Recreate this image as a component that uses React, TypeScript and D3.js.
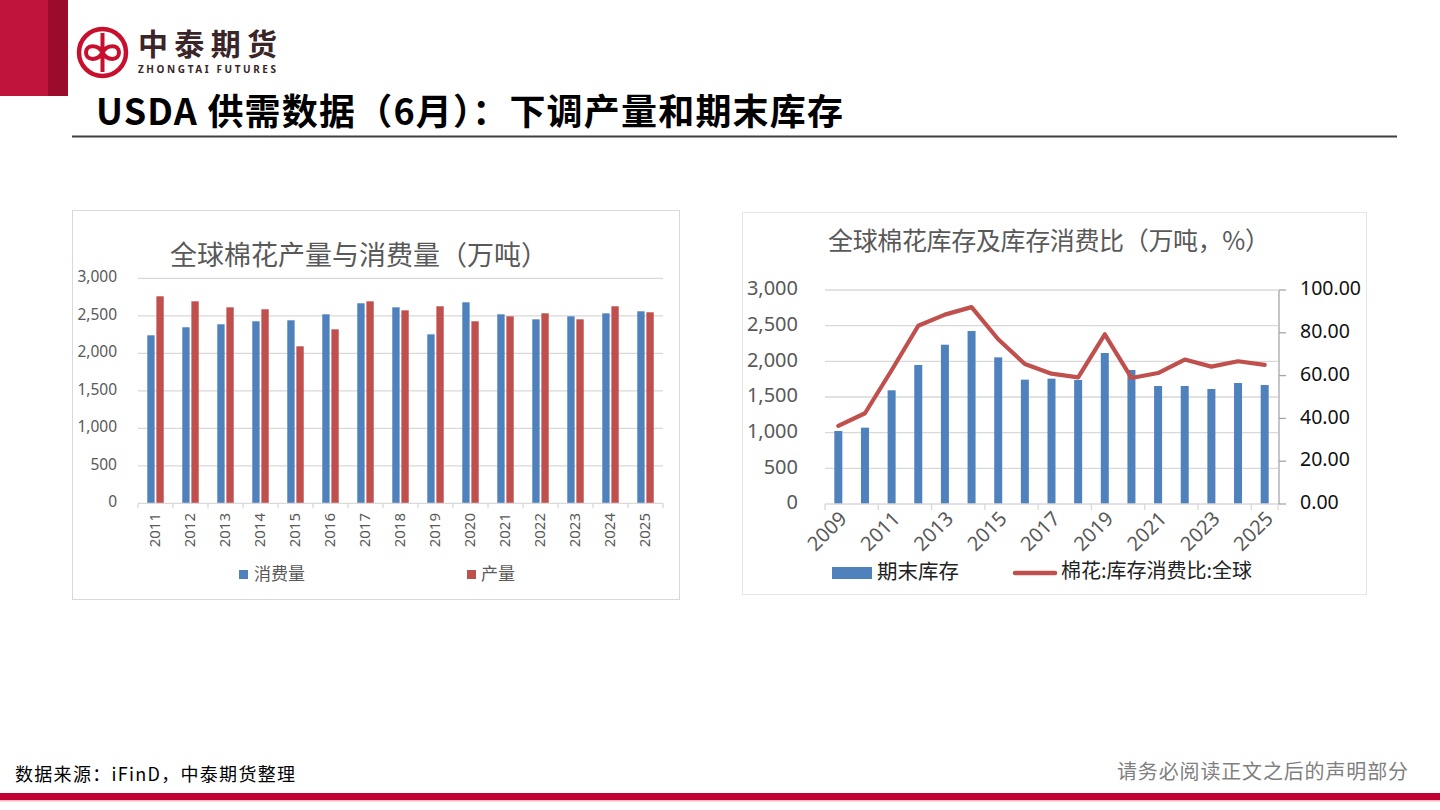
import * as d3 from 'd3';

// 左图：全球棉花产量与消费量（万吨）
const years1 = ['2011', '2012', '2013', '2014', '2015', '2016', '2017', '2018', '2019', '2020', '2021', '2022', '2023', '2024', '2025'];
const consumption = [2240, 2347, 2387, 2427, 2440, 2520, 2667, 2613, 2253, 2680, 2520, 2453, 2493, 2533, 2560];
const production = [2760, 2693, 2613, 2587, 2093, 2320, 2693, 2573, 2627, 2427, 2493, 2533, 2453, 2627, 2547];
const yTicks1 = [0, 500, 1000, 1500, 2000, 2500, 3000];

// 右图：全球棉花库存及库存消费比（万吨，%）
const years2 = ['2009', '2010', '2011', '2012', '2013', '2014', '2015', '2016', '2017', '2018', '2019', '2020', '2021', '2022', '2023', '2024', '2025'];
const endingStocks = [1023, 1070, 1594, 1949, 2233, 2425, 2056, 1743, 1757, 1738, 2117, 1879, 1654, 1654, 1612, 1696, 1668];
const stockRatio = [36.5, 42.4, 62.5, 83.3, 88.5, 92.0, 77.0, 65.4, 60.9, 59.2, 79.3, 58.9, 61.2, 67.5, 64.2, 66.7, 65.0];
const yTicks2L = [0, 500, 1000, 1500, 2000, 2500, 3000];
const yTicks2R = [0, 20, 40, 60, 80, 100];

const BLUE = '#4f81bd';
const RED = '#c0504d';
const GRID = '#d9d9d9';
const SANS = '"Noto Sans", "Noto Sans CJK SC", sans-serif';
const CJK = '"Noto Sans CJK SC", "Noto Sans", sans-serif';
const fmt = d3.format(',');

function LeftChart() {
  const x = d3.scaleBand<string>().domain(years1).range([138, 663]);
  const y = d3.scaleLinear().domain([0, 3000]).range([503.3, 278.3]);
  const bw = x.bandwidth();
  const barW = bw * 0.21;
  const gap = bw * 0.05;
  return (
    <g>
      <rect x={72.5} y={210.5} width={607} height={389} fill="#fff" stroke={GRID} />
      <text x={170} y={258} dominantBaseline="middle" fontFamily={CJK} fontSize={27} fill="#595959" textLength={378}>
        全球棉花产量与消费量（万吨）
      </text>
      {yTicks1.map((t) => (
        <g key={t}>
          {t > 0 && <line x1={138} x2={663} y1={y(t)} y2={y(t)} stroke={GRID} strokeWidth={1.3} />}
          <text x={117} y={y(t)} textAnchor="end" dominantBaseline="middle" fontFamily={SANS} fontSize={15.5} fill="#595959">
            {fmt(t)}
          </text>
        </g>
      ))}
      {years1.map((yr, i) => {
        const c = (x(yr) || 0) + bw / 2;
        return (
          <g key={yr}>
            <rect x={c - gap / 2 - barW} y={y(consumption[i])} width={barW} height={y(0) - y(consumption[i])} fill={BLUE} />
            <rect x={c + gap / 2} y={y(production[i])} width={barW} height={y(0) - y(production[i])} fill={RED} />
            <text
              transform={`translate(${c},513) rotate(-90)`}
              textAnchor="end"
              dominantBaseline="middle"
              fontFamily={SANS}
              fontSize={15}
              fill="#595959"
            >
              {yr}
            </text>
          </g>
        );
      })}
      <line x1={138} x2={663} y1={y(0)} y2={y(0)} stroke={GRID} strokeWidth={1.3} />
      {[...years1.map((yr) => x(yr) || 0), 663].map((px, i) => (
        <line key={i} x1={px} x2={px} y1={y(0)} y2={y(0) + 5} stroke={GRID} strokeWidth={1.3} />
      ))}
      <rect x={239} y={570} width={9} height={9} fill={BLUE} />
      <text x={254} y={575} dominantBaseline="middle" fontFamily={CJK} fontSize={17} fill="#595959">消费量</text>
      <rect x={467} y={570} width={9} height={9} fill={RED} />
      <text x={481} y={575} dominantBaseline="middle" fontFamily={CJK} fontSize={17} fill="#595959">产量</text>
    </g>
  );
}

function RightChart() {
  const x = d3.scaleBand<string>().domain(years2).range([825, 1278]);
  const yL = d3.scaleLinear().domain([0, 3000]).range([504, 290]);
  const yR = d3.scaleLinear().domain([0, 100]).range([504, 290]);
  const bw = x.bandwidth();
  const barW = 8;
  const cx = (yr: string) => (x(yr) || 0) + bw / 2;
  const line = d3
    .line<number>()
    .x((_, i) => cx(years2[i]))
    .y((d) => yR(d));
  const tickXs = [...years2.filter((_, i) => i % 2 === 0).map((yr) => x(yr) || 0), 1278];
  return (
    <g>
      <rect x={742.5} y={212.5} width={624} height={382} fill="#fff" stroke="#e6e6e6" />
      <text x={828} y={243} dominantBaseline="middle" fontFamily={CJK} fontSize={25} fill="#595959" textLength={442}>
        全球棉花库存及库存消费比（万吨，%）
      </text>
      {yTicks2L.map((t) => (
        <g key={t}>
          {t > 0 && <line x1={825} x2={1278} y1={yL(t)} y2={yL(t)} stroke={GRID} strokeWidth={1.3} />}
          <text x={798} y={yL(t)} textAnchor="end" dominantBaseline="middle" fontFamily={SANS} fontSize={20} fill="#595959">
            {fmt(t)}
          </text>
        </g>
      ))}
      {years2.map((yr, i) => (
        <rect key={yr} x={cx(yr) - barW / 2} y={yL(endingStocks[i])} width={barW} height={yL(0) - yL(endingStocks[i])} fill={BLUE} />
      ))}
      <line x1={825} x2={1279} y1={yL(0)} y2={yL(0)} stroke={GRID} strokeWidth={1.3} />
      {tickXs.map((px, i) => (
        <line key={i} x1={px} x2={px} y1={yL(0)} y2={yL(0) + 6} stroke={GRID} strokeWidth={1.3} />
      ))}
      {years2.map((yr, i) =>
        i % 2 === 0 ? (
          <text
            key={yr}
            transform={`translate(${cx(yr) + 6},516) rotate(-45)`}
            textAnchor="end"
            dominantBaseline="middle"
            fontFamily={SANS}
            fontSize={20}
            fill="#595959"
          >
            {yr}
          </text>
        ) : null
      )}
      <path d={line(stockRatio) || ''} fill="none" stroke={RED} strokeWidth={4.2} strokeLinejoin="round" strokeLinecap="round" />
      <line x1={1279} x2={1279} y1={yR(100)} y2={yR(0)} stroke="#a6a6a6" strokeWidth={1.3} />
      {yTicks2R.map((t) => (
        <g key={t}>
          <line x1={1279} x2={1286} y1={yR(t)} y2={yR(t)} stroke="#a6a6a6" strokeWidth={1.3} />
          <text x={1300} y={yR(t)} dominantBaseline="middle" fontFamily={SANS} fontSize={19.5} fill="#111">
            {t.toFixed(2)}
          </text>
        </g>
      ))}
      <rect x={832} y={567} width={40} height={12} fill={BLUE} />
      <text x={877} y={573} dominantBaseline="middle" fontFamily={CJK} fontSize={20.5} fill="#222">期末库存</text>
      <line x1={1015} x2={1055} y1={573} y2={573} stroke={RED} strokeWidth={4.5} strokeLinecap="round" />
      <text x={1061} y={573} dominantBaseline="middle" fontFamily={CJK} fontSize={20} fill="#222">棉花:库存消费比:全球</text>
    </g>
  );
}

function Header() {
  return (
    <g>
      <rect x={0} y={0} width={48} height={96} fill="#c0143c" />
      <rect x={48} y={0} width={20} height={96} fill="#9b0b2c" />
      <circle cx={102.5} cy={52.5} r={23.5} fill="none" stroke="#c8102e" strokeWidth={4.5} />
      <path
        d="M102.5 33 L102.5 72 M102.5 52.5 C98 44 86 44 86 52.5 C86 61 98 61 102.5 52.5 C107 44 119 44 119 52.5 C119 61 107 61 102.5 52.5"
        fill="none"
        stroke="#c8102e"
        strokeWidth={4}
      />
      <text x={138} y={47} dominantBaseline="middle" fontFamily={CJK} fontWeight="bold" fontSize={30} fill="#3a2528" textLength={139}>
        中泰期货
      </text>
      <text x={138} y={70} dominantBaseline="middle" fontFamily={SANS} fontWeight="bold" fontSize={10} fill="#3a2528" textLength={138}>
        ZHONGTAI FUTURES
      </text>
      <text x={96} y={115} dominantBaseline="middle" fontFamily={CJK} fontWeight="bold" fontSize={36} fill="#000" textLength={747}>
        USDA 供需数据（6月）：下调产量和期末库存
      </text>
      <line x1={72} x2={1397} y1={136.5} y2={136.5} stroke="#3f3f3f" strokeWidth={1.8} />
    </g>
  );
}

function Footer() {
  return (
    <g>
      <text x={15} y={776} dominantBaseline="middle" fontFamily={CJK} fontSize={18} fill="#000" textLength={280}>
        数据来源：iFinD，中泰期货整理
      </text>
      <text x={1117} y={774} dominantBaseline="middle" fontFamily={CJK} fontSize={20} fill="#7f7f7f" textLength={291}>
        请务必阅读正文之后的声明部分
      </text>
      <rect x={0} y={793} width={1440} height={7} fill="#c00030" />
      <rect x={0} y={800} width={1440} height={1.5} fill="#f0b8c4" />
    </g>
  );
}

export default function App() {
  return (
    <div style={{ position: 'fixed', left: 0, top: 0, width: 1440, height: 810, background: '#fff' }}>
      <svg width={1440} height={810} viewBox="0 0 1440 810" style={{ display: 'block' }}>
        <rect width={1440} height={810} fill="#fff" />
        <Header />
        <LeftChart />
        <RightChart />
        <Footer />
      </svg>
    </div>
  );
}
